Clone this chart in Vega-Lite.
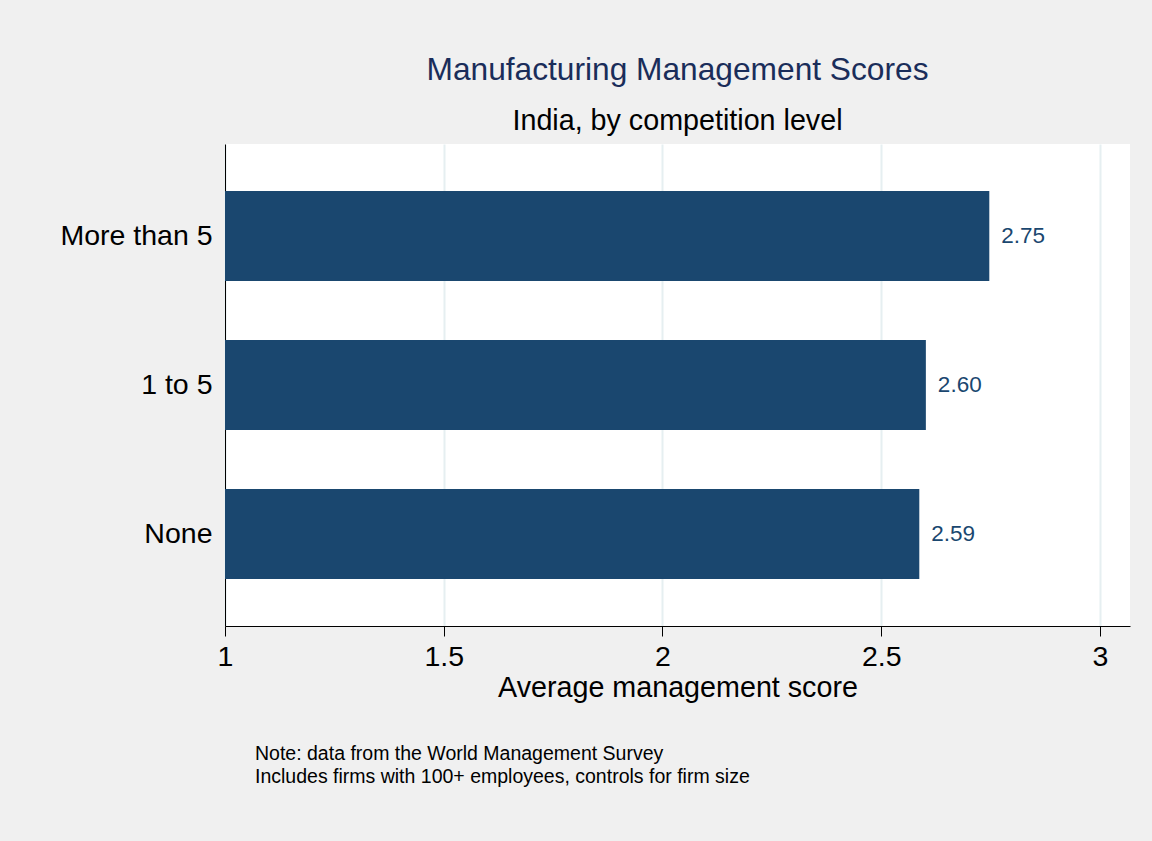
{
  "$schema": "https://vega.github.io/schema/vega-lite/v6.json",
  "background": "#f0f0f0",
  "padding": {"left": 59, "top": 54, "right": 24, "bottom": 68},
  "config": {"font": "Liberation Sans", "view": {"fill": "white", "stroke": null}},
  "title": {
    "text": ["Note: data from the World Management Survey", "Includes firms with 100+ employees, controls for firm size"],
    "orient": "bottom", "anchor": "start", "frame": "group",
    "fontSize": 19.5, "fontWeight": "normal", "color": "black", "lineHeight": 23.3,
    "dx": 30, "offset": 43
  },
  "vconcat": [
    {
      "width": 905,
      "height": 482,
      "title": {
        "text": "Manufacturing Management Scores",
        "subtitle": "India, by competition level",
        "anchor": "middle", "frame": "group",
        "fontSize": 31.7, "fontWeight": "normal", "color": "#1a2d5a",
        "subtitleFontSize": 28.7, "subtitleColor": "black", "subtitlePadding": 21,
        "offset": 8
      },
      "data": {"values": [
        {"competition": "More than 5", "score": 2.747},
        {"competition": "1 to 5", "score": 2.602},
        {"competition": "None", "score": 2.587}
      ]},
      "encoding": {
        "y": {
          "field": "competition", "type": "nominal",
          "sort": ["More than 5", "1 to 5", "None"],
          "scale": {"paddingInner": 0.396, "paddingOuter": 0.3154},
          "axis": {
            "title": null, "ticks": false, "domain": true, "domainColor": "black", "domainWidth": 1,
            "labelFontSize": 28.5, "labelColor": "black", "labelPadding": 13, "grid": false
          }
        },
        "x": {
          "field": "score", "type": "quantitative",
          "scale": {"domain": [1, 3.0686], "nice": false, "zero": false},
          "axis": {
            "title": "Average management score",
            "values": [1, 1.5, 2, 2.5, 3], "format": "~g",
            "tickSize": 10, "tickColor": "black", "tickWidth": 1,
            "domainColor": "black", "domainWidth": 1,
            "labelFontSize": 28.5, "labelColor": "black", "labelPadding": 6,
            "labelFlush": false, "labelOverlap": false,
            "grid": true, "gridColor": "#e6eff1", "gridWidth": 2,
            "titleFontSize": 28.7, "titleFontWeight": "normal", "titleColor": "black", "titlePadding": 3
          }
        }
      },
      "layer": [
        {"mark": {"type": "bar", "color": "#1a476f"}, "encoding": {"x2": {"datum": 1}}},
        {
          "mark": {"type": "text", "align": "left", "baseline": "middle", "dx": 12, "fontSize": 22.5, "color": "#1a476f"},
          "encoding": {"text": {"field": "score", "type": "quantitative", "format": ".2f"}}
        }
      ]
    }
  ]
}
